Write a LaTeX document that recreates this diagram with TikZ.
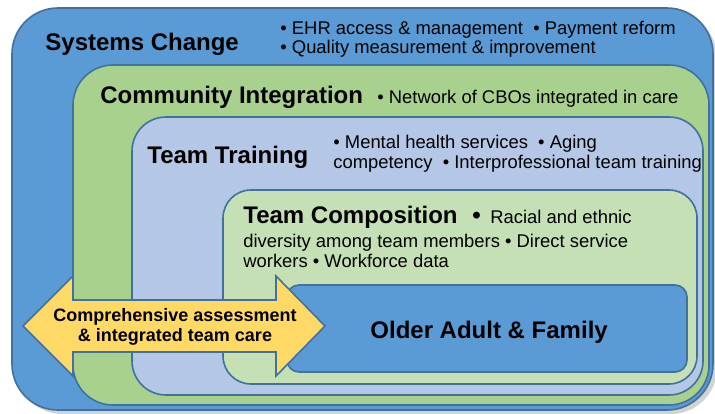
\documentclass[tikz,border=0pt]{standalone}
\usepackage{fontspec}
\setmainfont{Liberation Sans}
\usetikzlibrary{shadows}

\definecolor{sysblue}{HTML}{5B9BD5}
\definecolor{comgreen}{HTML}{A9D18E}
\definecolor{trainblue}{HTML}{B4C7E7}
\definecolor{compgreen}{HTML}{C5E0B4}
\definecolor{edgeblue}{HTML}{41719C}
\definecolor{arrowyellow}{HTML}{FFD966}

\tikzset{
  layer/.style={draw=edgeblue, line width=0.8pt},
  heading/.style={font=\fontsize{12}{14}\selectfont\bfseries, anchor=base west, inner sep=0pt},
  bullets/.style={font=\fontsize{9.2}{11}\selectfont, anchor=base west, inner sep=0pt},
  arrowtext/.style={font=\fontsize{9}{11}\selectfont\bfseries, anchor=base, inner sep=0pt},
}

\begin{document}
\begin{tikzpicture}[x=0.5pt, y=-0.5pt]
        % Page size and background
        \useasboundingbox (0,0) rectangle (715,413);
        \fill[white] (0,0) rectangle (715,413);

        % Draw the nested layers, outer to inner
        \filldraw[layer, fill=sysblue, rounded corners=23pt,
          drop shadow={opacity=0.35, shadow xshift=2pt, shadow yshift=-2pt}] (12,8) rectangle (713,410);
        \filldraw[layer, fill=comgreen, rounded corners=20pt] (73,65) rectangle (709,405);
        \filldraw[layer, fill=trainblue, rounded corners=17pt] (132,117) rectangle (703,395);
        \filldraw[layer, fill=compgreen, rounded corners=14pt] (223,190) rectangle (697,384);
        \filldraw[layer, fill=sysblue, rounded corners=6pt] (287,285) rectangle (687,372);

        % Labels of each layer
        \node[heading] (sys) at (45,50) {Systems Change};
        \node[bullets] (sysa) at (280,34) {• EHR access \& management \ • Payment reform};
        \node[bullets] (sysb) at (280,53) {• Quality measurement \& improvement};

        \node[heading] (com) at (100,103) {Community Integration};
        \node[bullets] (coma) at (377,103) {• Network of CBOs integrated in care};

        \node[heading] (train) at (147,163) {Team Training};
        \node[bullets] (traina) at (333,148) {• Mental health services \ • Aging};
        \node[bullets] (trainb) at (333,168) {competency \ • Interprofessional team training};

        \node[heading] (comp) at (243,223) {Team Composition};
        \node[heading] (compdot) at (472,223) {•};
        \node[bullets] (compa) at (490,223) {Racial and ethnic};
        \node[bullets] (compb) at (243,247) {diversity among team members • Direct service};
        \node[bullets] (compc) at (243,267) {workers • Workforce data};

        \node[heading] (older) at (370,338) {Older Adult \& Family};

        % Two-headed arrow across the layers
        \filldraw[layer, fill=arrowyellow] (23,326) -- (73,276) -- (73,300) -- (276,300) -- (276,276)
          -- (325,326) -- (276,376) -- (276,352) -- (73,352) -- (73,376) -- cycle;
        \node[arrowtext] (care) at (175,321) {Comprehensive assessment};
        \node[arrowtext] (team) at (175,341) {\& integrated team care};
\end{tikzpicture}
\end{document}
